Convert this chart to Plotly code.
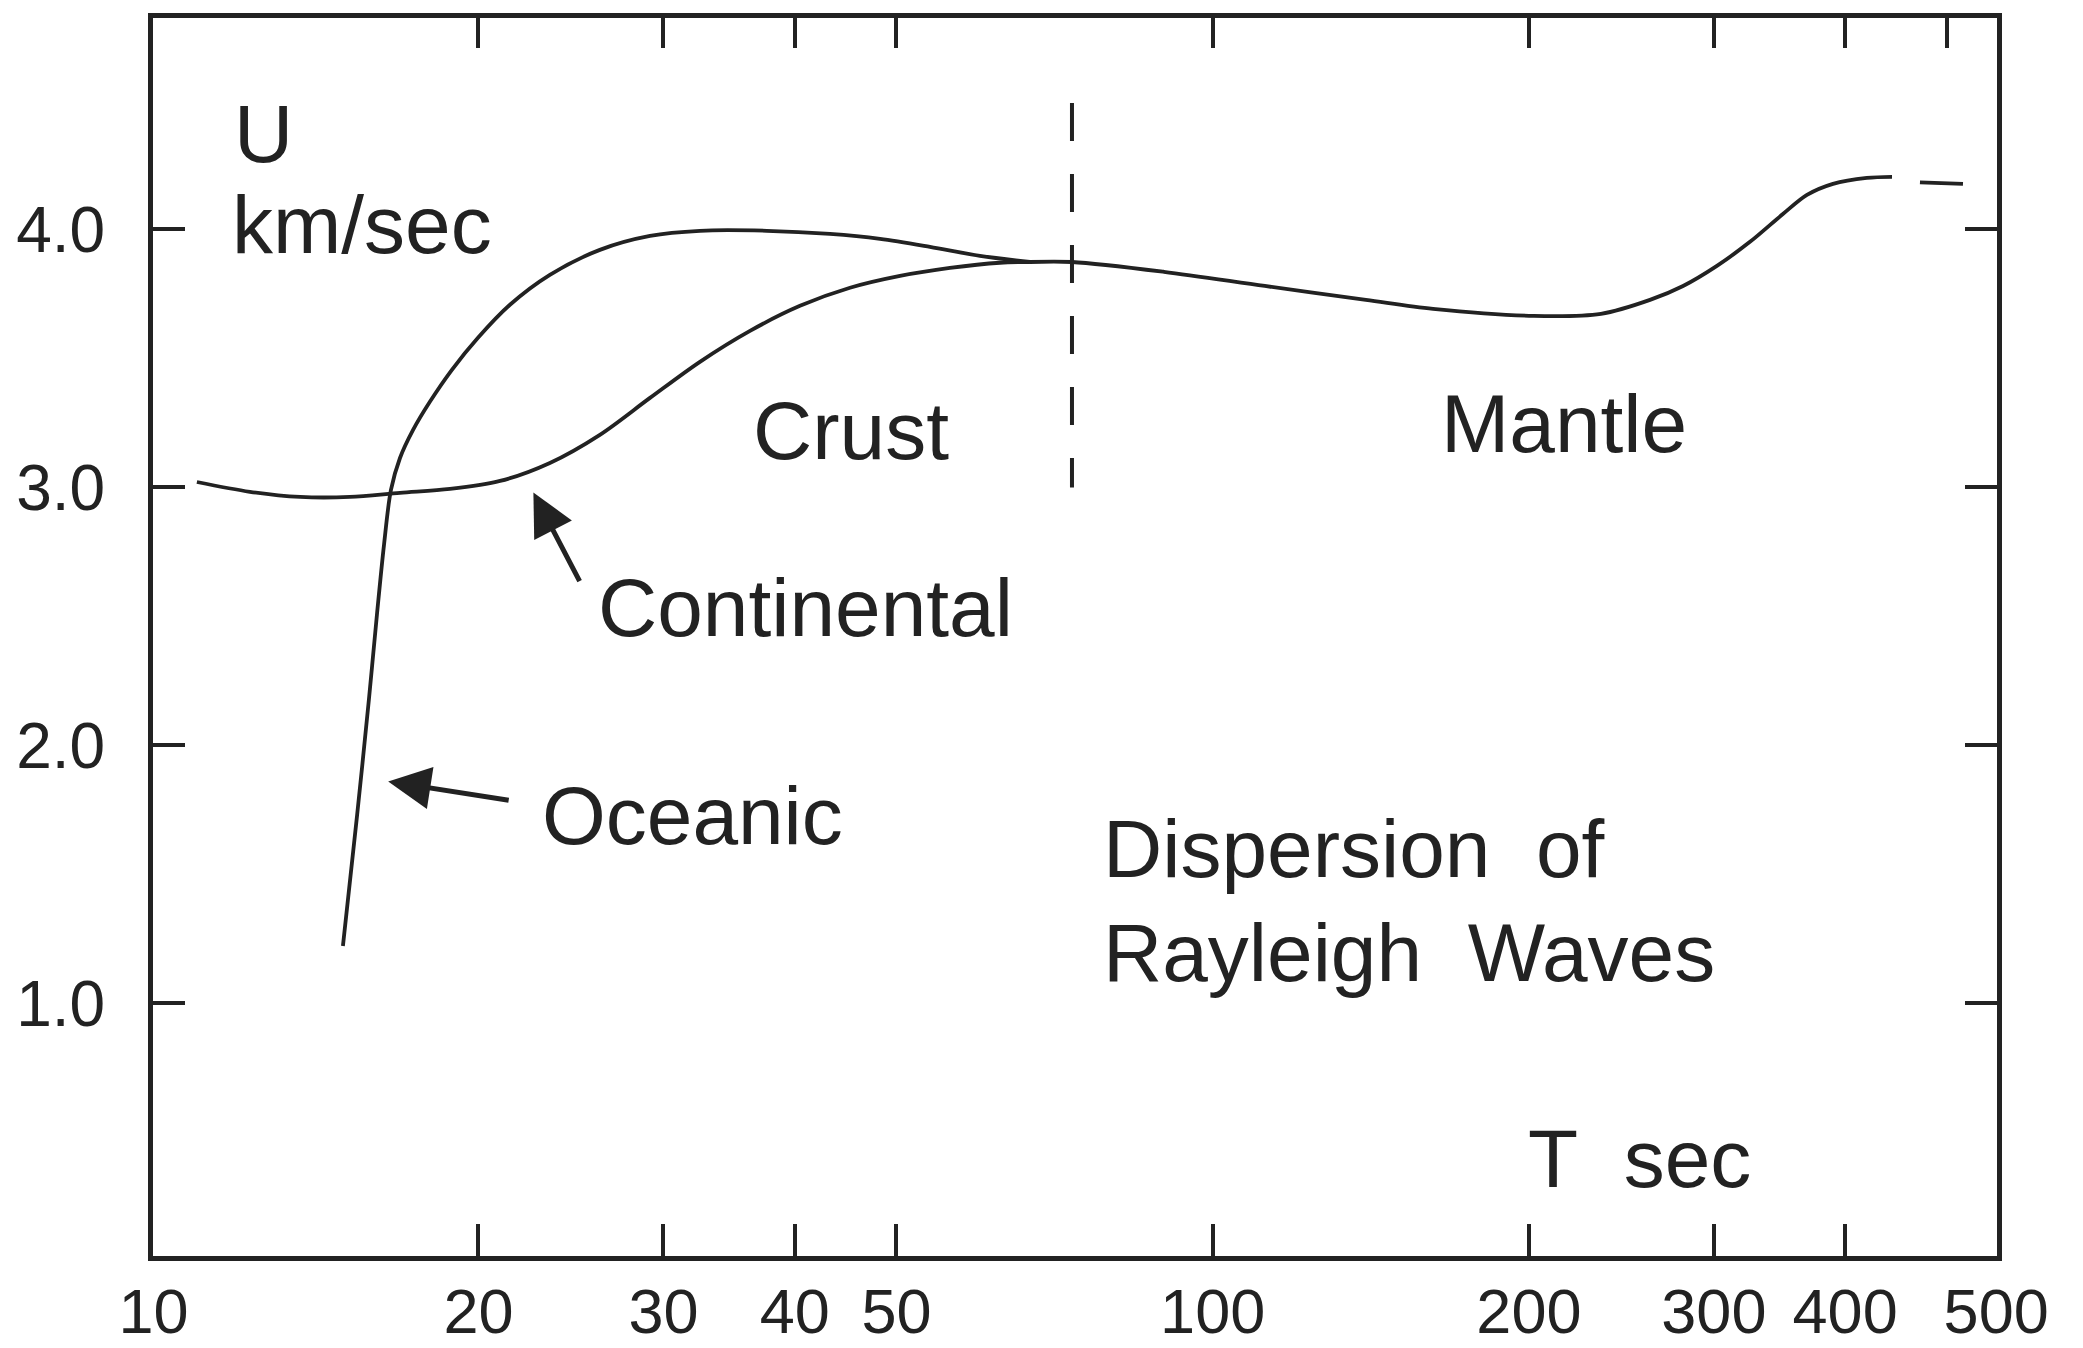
import math
import plotly.graph_objects as go

# ---------------- data ----------------
oceanic_T = [14.86, 15.33, 15.73, 16.01, 16.26, 16.51, 16.84, 17.33, 17.98, 18.87,
             19.98, 21.43, 23.39, 26.10, 29.13, 32.50, 37.64, 43.22, 48.23, 53.81,
             60.04, 66.99]
oceanic_U = [1.222, 1.730, 2.176, 2.506, 2.777, 2.990, 3.114, 3.223, 3.332, 3.456,
             3.580, 3.708, 3.824, 3.921, 3.975, 3.995, 3.995, 3.983, 3.964, 3.933,
             3.898, 3.874]

continental_T = [10.79, 12.12, 13.53, 15.09, 16.84, 18.79, 20.97, 23.39, 26.10,
                 29.13, 32.50, 36.27, 40.47, 45.16, 50.39, 56.22, 62.74, 66.99]
continental_U = [3.021, 2.983, 2.963, 2.963, 2.979, 2.994, 3.025, 3.095, 3.204,
                 3.347, 3.487, 3.607, 3.704, 3.774, 3.820, 3.851, 3.871, 3.874]

mantle_T = [66.99, 73.46, 89.86, 112.1, 139.9, 162.1, 202.2, 234.2, 260.8, 280.4,
            302.0, 324.7, 349.0, 367.9, 389.5, 419.5, 443.3]
mantle_U = [3.874, 3.874, 3.836, 3.781, 3.727, 3.692, 3.665, 3.673, 3.727, 3.781,
            3.859, 3.952, 4.060, 4.134, 4.177, 4.200, 4.204]

mantle_ext_T = [471.3, 517.9]
mantle_ext_U = [4.183, 4.177]

boundary_T = [73.46, 73.46]
boundary_U = [4.49, 3.0]

x_tick_vals = [9.81, 20, 30, 40, 50, 100, 200, 300, 400, 557]
x_tick_text = ["10", "20", "30", "40", "50", "100", "200", "300", "400", "500"]
x_top_ticks = [20, 30, 40, 50, 100, 200, 300, 400, 500]
y_tick_vals = [1, 2, 3, 4]
y_tick_text = ["1.0", "2.0", "3.0", "4.0"]

X_RANGE = [math.log10(9.8), math.log10(558)]
Y_RANGE = [0.02, 4.82]

INK = "#222222"
FONT = "Liberation Sans, Arial, Helvetica, sans-serif"

# page is 2083x1348; the html body adds an 8px offset, so the figure is made
# 8px smaller and its margins are shifted accordingly.
PAGE_OFF = 8
FIG_W, FIG_H = 2083 - PAGE_OFF, 1348 - PAGE_OFF
# plot box in page pixels (for placing free labels)
L, R, T, B = 153, 1997, 18, 1256


def px(xp):
    return (xp - L) / (R - L)


def py(yp):
    return (B - yp) / (B - T)


fig = go.Figure()

line_style = dict(color=INK, width=3.8, shape="spline", smoothing=0.9)
fig.add_trace(go.Scatter(x=oceanic_T, y=oceanic_U, mode="lines", line=line_style,
                         name="Oceanic", hoverinfo="skip"))
fig.add_trace(go.Scatter(x=continental_T, y=continental_U, mode="lines", line=line_style,
                         name="Continental", hoverinfo="skip"))
fig.add_trace(go.Scatter(x=mantle_T, y=mantle_U, mode="lines", line=line_style,
                         name="Mantle", hoverinfo="skip"))
fig.add_trace(go.Scatter(x=mantle_ext_T, y=mantle_ext_U, mode="lines",
                         line=dict(color=INK, width=3.8), name="extrapolated",
                         hoverinfo="skip"))
fig.add_trace(go.Scatter(x=boundary_T, y=boundary_U, mode="lines",
                         line=dict(color=INK, width=4, dash="38px,33px"),
                         name="Crust/Mantle", hoverinfo="skip"))
# empty trace so that the top axis (x2) is drawn
fig.add_trace(go.Scatter(x=[], y=[], xaxis="x2", yaxis="y", showlegend=False,
                         hoverinfo="skip"))

axis_common = dict(showgrid=False, zeroline=False, showline=True, linewidth=5,
                   linecolor=INK, ticks="inside", tickwidth=4, tickcolor=INK,
                   automargin=False)

fig.update_layout(
    width=FIG_W, height=FIG_H,
    margin=dict(l=L - PAGE_OFF, r=2083 - R, t=T - PAGE_OFF, b=1348 - B),
    paper_bgcolor="white", plot_bgcolor="white",
    showlegend=False,
    font=dict(family=FONT, color=INK),
    xaxis=dict(type="log", range=X_RANGE, tickvals=x_tick_vals, ticktext=x_tick_text,
               ticklen=32, tickfont=dict(size=63, family=FONT, color=INK),
               ticklabelstandoff=-4, mirror=False, **axis_common),
    xaxis2=dict(type="log", range=X_RANGE, tickvals=x_top_ticks, overlaying="x",
                side="top", anchor="y", showticklabels=False, ticklen=30,
                **axis_common),
    yaxis=dict(range=Y_RANGE, tickvals=y_tick_vals, ticktext=y_tick_text,
               ticklen=32, tickfont=dict(size=64, family=FONT, color=INK),
               ticklabelstandoff=30, mirror="ticks", **axis_common),
)

labels = [
    ("U", 232, 133, "left"),
    ("km/sec", 230, 224, "left"),
    ("Crust", 851, 430, "center"),
    ("Mantle", 1564, 423, "center"),
    ("Continental", 596, 607, "left"),
    ("Oceanic", 540, 815, "left"),
    ("Dispersion\u00a0\u00a0of", 1101, 848, "left"),
    ("Rayleigh\u00a0\u00a0Waves", 1101, 952, "left"),
    ("T\u00a0\u00a0sec", 1526, 1158, "left"),
]
for text, xpix, ypix, anchor in labels:
    fig.add_annotation(text=text, xref="paper", yref="paper", x=px(xpix), y=py(ypix),
                       xanchor=anchor, yanchor="middle", showarrow=False,
                       font=dict(size=82, family=FONT, color=INK))

# arrows pointing at the curves
fig.add_annotation(text="", xref="x", yref="y", x=math.log10(16.41), y=1.86,
                   ax=122, ay=19, showarrow=True, arrowhead=2, arrowsize=1.7,
                   arrowwidth=5, arrowcolor=INK)
fig.add_annotation(text="", xref="x", yref="y", x=math.log10(22.56), y=2.98,
                   ax=47, ay=90, showarrow=True, arrowhead=2, arrowsize=1.7,
                   arrowwidth=5, arrowcolor=INK)

fig.write_html("out.html")
